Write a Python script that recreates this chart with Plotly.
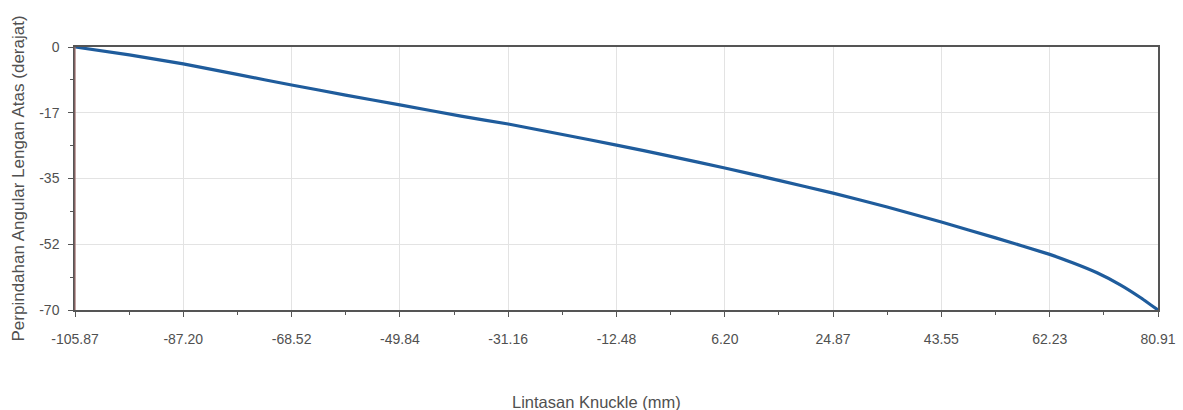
import plotly.graph_objects as go

# Data
knuckle_mm = [-105.87, -96.5, -87.20, -77.9, -68.52, -59.2, -49.84, -39.3, -31.16, -21.8,
              -12.48, -3.1, 6.20, 15.5, 24.87, 34.2, 43.55, 52.9, 62.23, 66.3, 70.4,
              74.4, 77.8, 80.91]
angle_deg = [0.0, -2.1, -4.5, -7.3, -10.1, -12.8, -15.4, -18.4, -20.5, -23.3,
             -26.1, -29.1, -32.2, -35.5, -38.9, -42.6, -46.6, -50.8, -55.2, -57.5, -60.1,
             -63.3, -66.6, -70.0]

x_tick_labels = ["-105.87", "-87.20", "-68.52", "-49.84", "-31.16", "-12.48",
                 "6.20", "24.87", "43.55", "62.23", "80.91"]
y_tick_values = [0, -17.5, -35, -52.5, -70]
y_tick_labels = ["0", "-17", "-35", "-52", "-70"]

x_title = "Lintasan Knuckle (mm)"
y_title = "Perpindahan Angular Lengan Atas (derajat)"

x_tick_values = [float(s) for s in x_tick_labels]
x_step = (x_tick_values[-1] - x_tick_values[0]) / (len(x_tick_values) - 1)

font_family = "Liberation Sans, Arial, sans-serif"
text_color = "#505050"

fig = go.Figure()
fig.add_trace(go.Scatter(
    x=knuckle_mm, y=angle_deg, mode="lines",
    line=dict(color="#1f5c9c", width=3.2, shape="spline", smoothing=0.4),
    showlegend=False, hoverinfo="x+y",
))

fig.update_layout(
    width=1183, height=410,
    margin=dict(l=75, r=25, t=47, b=100, autoexpand=False),
    paper_bgcolor="white", plot_bgcolor="white",
    font=dict(family=font_family, size=14, color=text_color),
)

fig.update_xaxes(
    range=[x_tick_values[0], x_tick_values[-1]],
    tickmode="array", tickvals=x_tick_values, ticktext=x_tick_labels,
    ticks="outside", ticklen=5, tickcolor="#555555", tickwidth=1,
    ticklabelstandoff=10, automargin=False,
    showgrid=True, gridcolor="#e3e3e3", gridwidth=1,
    showline=True, linecolor="#555555", linewidth=1.5, mirror=True,
    zeroline=False,
    minor=dict(tick0=x_tick_values[0], dtick=x_step / 2, ticks="outside",
               ticklen=3, tickcolor="#555555", showgrid=False),
    tickfont=dict(size=14, color=text_color),
)

fig.update_yaxes(
    range=[-70, 0],
    tickmode="array", tickvals=y_tick_values, ticktext=y_tick_labels,
    ticks="outside", ticklen=5, tickcolor="#555555", tickwidth=1,
    ticklabelstandoff=6, automargin=False,
    showgrid=True, gridcolor="#e3e3e3", gridwidth=1,
    showline=True, linecolor="#555555", linewidth=1.5, mirror=True,
    zeroline=False,
    minor=dict(tick0=0, dtick=8.75, ticks="outside", ticklen=3,
               tickcolor="#555555", showgrid=False),
    tickfont=dict(size=14, color=text_color),
)

# axis titles placed as in the reference
fig.add_annotation(text=x_title, xref="paper", yref="paper", x=0.4815, y=0,
                   yshift=-92, showarrow=False, xanchor="center", yanchor="middle",
                   font=dict(size=16.5, color=text_color))
fig.add_annotation(text=y_title, xref="paper", yref="paper", x=0, y=0.5,
                   xshift=-57, showarrow=False, textangle=-90,
                   xanchor="center", yanchor="middle",
                   font=dict(size=17, color=text_color))

# reddish left axis line as in the reference
fig.add_shape(type="line", xref="paper", yref="paper", x0=0, x1=0, y0=0, y1=1,
              line=dict(color="#9a6a6a", width=1.2), layer="above")

fig.write_html("out.html")
